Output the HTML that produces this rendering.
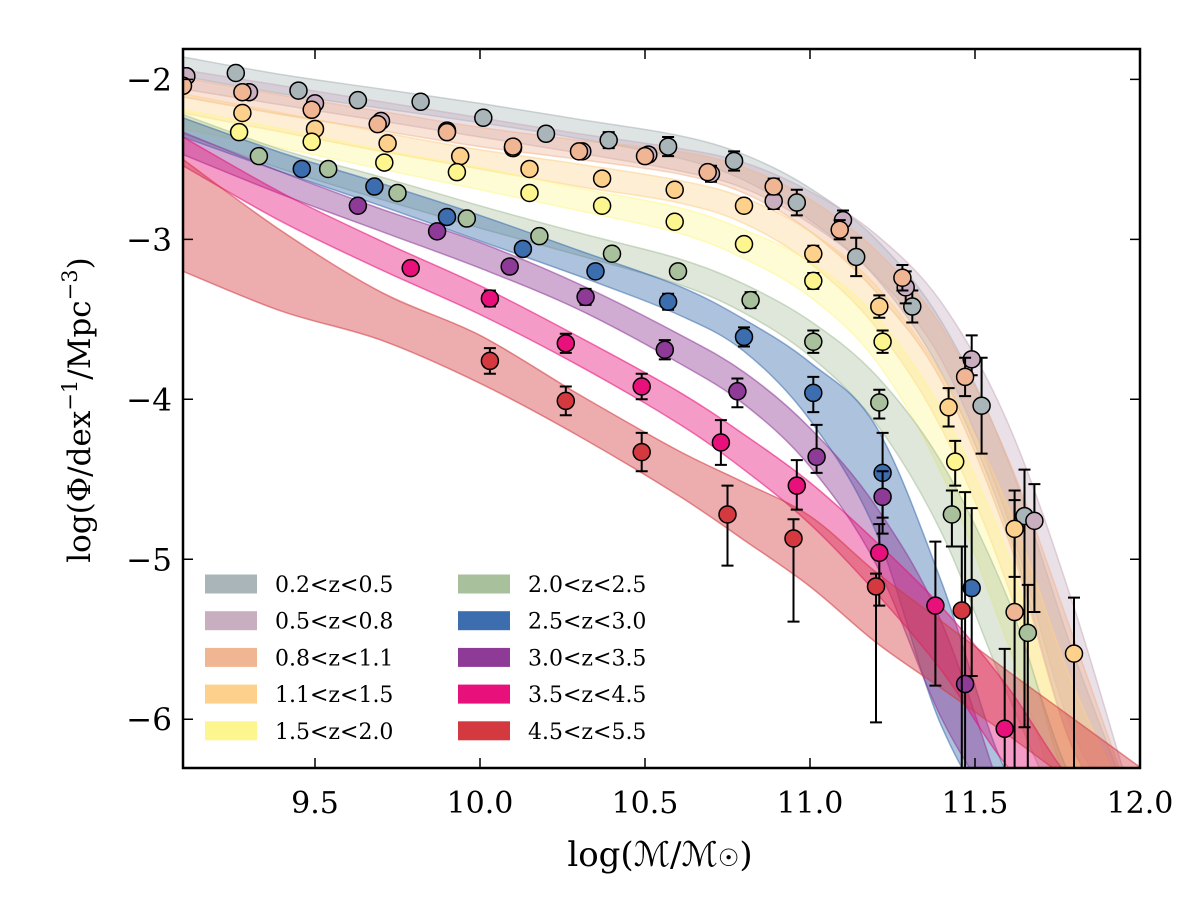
<!DOCTYPE html>
<html><head><meta charset="utf-8">
<style>
html,body{margin:0;padding:0;background:#fff;width:1200px;height:905px;overflow:hidden;}
svg{display:block;}
text{font-family:"DejaVu Serif","Liberation Serif",serif;}
</style></head>
<body>
<svg id="chart" width="1200" height="905" viewBox="0 0 1200 905">
  <defs><clipPath id="plotclip"><rect x="183" y="49" width="957" height="719"/></clipPath></defs>
  <rect x="0" y="0" width="1200" height="905" fill="#fff"/>
  <g id="bands" clip-path="url(#plotclip)"></g>
  <g id="points" clip-path="url(#plotclip)"></g>
  <rect x="183" y="49" width="957" height="719" fill="none" stroke="#000" stroke-width="2.5"/>
  <g id="axes"></g>
  <g id="legend"></g>
  <text x="660" y="866" font-size="34" text-anchor="middle">log(ℳ/ℳ<tspan font-size="24">☉</tspan>)</text>
  <text x="0" y="0" font-size="31" text-anchor="middle" transform="translate(90,410) rotate(-90)">log(Φ/dex<tspan dy="-13" font-size="21">−1</tspan><tspan dy="13">/Mpc</tspan><tspan dy="-13" font-size="21">−3</tspan><tspan dy="13">)</tspan></text>
</svg>
<script>
// ---- data ----
const xTicks = [9.5, 10.0, 10.5, 11.0, 11.5, 12.0];
const xTickLabels = ["9.5", "10.0", "10.5", "11.0", "11.5", "12.0"];
const yTicks = [-2, -3, -4, -5, -6];
const yTickLabels = ["−2", "−3", "−4", "−5", "−6"];
const seriesNames = ["0.2<z<0.5","0.5<z<0.8","0.8<z<1.1","1.1<z<1.5","1.5<z<2.0","2.0<z<2.5","2.5<z<3.0","3.0<z<3.5","3.5<z<4.5","4.5<z<5.5"];
const seriesColors = ["#a9b5b8","#c9aec0","#f0b694","#fdd18c","#fdf68f","#a8c09b","#3c6daf","#8e3a97","#e8107a","#d3393f"];
const bandGrid = [9.1, 9.4, 9.7, 10.0, 10.3, 10.6, 10.8, 11.0, 11.2, 11.4, 11.6, 11.8, 12.0];

const bandCenter0 = [-1.92,-2.03,-2.12,-2.21,-2.31,-2.42,-2.55,-2.78,-3.12,-3.68,-4.6,-5.9,-7.4];
const bandHalf0   = [0.06,0.06,0.06,0.06,0.06,0.07,0.08,0.1,0.12,0.16,0.22,0.3,0.4];
const bandCenter1 = [-2.0,-2.1,-2.2,-2.3,-2.4,-2.5,-2.6,-2.8,-3.1,-3.58,-4.45,-5.7,-7.2];
const bandHalf1   = [0.06,0.06,0.06,0.06,0.06,0.07,0.08,0.1,0.13,0.18,0.3,0.4,0.5];
const bandCenter2 = [-2.05,-2.16,-2.26,-2.36,-2.44,-2.52,-2.63,-2.85,-3.2,-3.72,-4.62,-5.85,-7.4];
const bandHalf2   = [0.06,0.06,0.06,0.06,0.06,0.07,0.08,0.1,0.13,0.17,0.25,0.35,0.45];
const bandCenter3 = [-2.15,-2.27,-2.39,-2.5,-2.6,-2.7,-2.82,-3.05,-3.42,-4.02,-4.92,-6.15,-7.7];
const bandHalf3   = [0.06,0.06,0.06,0.06,0.07,0.07,0.08,0.1,0.13,0.17,0.25,0.35,0.45];
const bandCenter4 = [-2.25,-2.37,-2.5,-2.62,-2.75,-2.88,-3.03,-3.25,-3.62,-4.27,-5.25,-6.6,-8.2];
const bandHalf4   = [0.06,0.06,0.06,0.07,0.07,0.08,0.09,0.11,0.14,0.2,0.28,0.38,0.5];
const bandCenter5 = [-2.28,-2.5,-2.68,-2.86,-3.03,-3.2,-3.37,-3.62,-4.0,-4.62,-5.55,-6.8,-8.2];
const bandHalf5   = [0.06,0.06,0.07,0.07,0.07,0.08,0.09,0.11,0.15,0.22,0.3,0.4,0.5];
const bandCenter6 = [-2.3,-2.52,-2.72,-2.93,-3.15,-3.38,-3.6,-3.95,-4.5,-5.6,-6.9,-8.2,-9.5];
const bandHalf6   = [0.06,0.06,0.07,0.08,0.08,0.09,0.1,0.18,0.33,0.45,0.55,0.6,0.6];
const bandCenter7 = [-2.4,-2.65,-2.88,-3.1,-3.36,-3.68,-3.93,-4.3,-4.85,-5.7,-7.0,-8.5,-10.0];
const bandHalf7   = [0.07,0.07,0.07,0.08,0.08,0.09,0.1,0.12,0.18,0.3,0.4,0.5,0.5];
const bandCenter8 = [-2.45,-2.8,-3.1,-3.38,-3.7,-4.05,-4.33,-4.65,-5.05,-5.5,-6.05,-6.7,-7.4];
const bandHalf8   = [0.09,0.09,0.09,0.09,0.09,0.1,0.11,0.13,0.16,0.2,0.25,0.3,0.35];
const bandCenter9 = [-2.85,-3.2,-3.48,-3.75,-4.1,-4.46,-4.7,-4.95,-5.3,-5.6,-5.9,-6.2,-6.5];
const bandHalf9   = [0.35,0.25,0.15,0.15,0.13,0.14,0.18,0.22,0.22,0.21,0.2,0.2,0.2];
const bandCenters = [bandCenter0,bandCenter1,bandCenter2,bandCenter3,bandCenter4,bandCenter5,bandCenter6,bandCenter7,bandCenter8,bandCenter9];
const bandHalves = [bandHalf0,bandHalf1,bandHalf2,bandHalf3,bandHalf4,bandHalf5,bandHalf6,bandHalf7,bandHalf8,bandHalf9];

const mass0 = [9.11,9.26,9.45,9.63,9.82,10.01,10.20,10.39,10.57,10.77,10.96,11.14,11.31,11.52,11.65];
const phi0  = [-1.98,-1.96,-2.07,-2.13,-2.14,-2.24,-2.34,-2.38,-2.42,-2.51,-2.77,-3.11,-3.42,-4.04,-4.73];
const errUp0 = [0.02,0.02,0.02,0.02,0.03,0.03,0.04,0.05,0.06,0.06,0.08,0.12,0.1,0.3,0.29];
const errDn0 = [0.02,0.02,0.02,0.02,0.03,0.03,0.04,0.05,0.06,0.06,0.08,0.12,0.1,0.3,1.32];
const mass1 = [9.11,9.30,9.50,9.70,9.90,10.10,10.31,10.51,10.70,10.89,11.10,11.29,11.49,11.68];
const phi1  = [-1.98,-2.08,-2.15,-2.26,-2.32,-2.43,-2.45,-2.47,-2.59,-2.76,-2.88,-3.30,-3.75,-4.76];
const errUp1 = [0.02,0.02,0.02,0.02,0.02,0.03,0.03,0.04,0.05,0.05,0.06,0.1,0.15,0.23];
const errDn1 = [0.02,0.02,0.02,0.02,0.02,0.03,0.03,0.04,0.05,0.05,0.06,0.1,0.1,0.57];
const mass2 = [9.10,9.28,9.49,9.69,9.90,10.10,10.30,10.50,10.69,10.89,11.09,11.28,11.47,11.62];
const phi2  = [-2.04,-2.08,-2.19,-2.28,-2.33,-2.42,-2.45,-2.48,-2.58,-2.67,-2.94,-3.24,-3.86,-5.33];
const errUp2 = [0.02,0.02,0.02,0.02,0.02,0.03,0.03,0.04,0.04,0.05,0.06,0.08,0.12,0.7];
const errDn2 = [0.02,0.02,0.02,0.02,0.02,0.03,0.03,0.04,0.04,0.05,0.06,0.08,0.12,1.0];
const mass3 = [9.28,9.50,9.72,9.94,10.15,10.37,10.59,10.80,11.01,11.21,11.42,11.62,11.80];
const phi3  = [-2.21,-2.31,-2.40,-2.48,-2.56,-2.62,-2.69,-2.79,-3.09,-3.42,-4.05,-4.81,-5.59];
const errUp3 = [0.02,0.02,0.02,0.02,0.02,0.03,0.03,0.04,0.05,0.07,0.12,0.24,0.35];
const errDn3 = [0.02,0.02,0.02,0.02,0.02,0.03,0.03,0.04,0.05,0.07,0.12,0.3,1.5];
const mass4 = [9.27,9.49,9.71,9.93,10.15,10.37,10.59,10.80,11.01,11.22,11.44];
const phi4  = [-2.33,-2.39,-2.52,-2.58,-2.71,-2.79,-2.89,-3.03,-3.26,-3.64,-4.39];
const errUp4 = [0.02,0.02,0.02,0.02,0.02,0.03,0.03,0.03,0.05,0.07,0.13];
const errDn4 = [0.02,0.02,0.02,0.02,0.02,0.03,0.03,0.03,0.05,0.07,0.15];
const mass5 = [9.33,9.54,9.75,9.96,10.18,10.40,10.60,10.82,11.01,11.21,11.43,11.66];
const phi5  = [-2.48,-2.56,-2.71,-2.87,-2.98,-3.09,-3.2,-3.38,-3.64,-4.02,-4.72,-5.46];
const errUp5 = [0.02,0.02,0.02,0.02,0.02,0.03,0.04,0.05,0.07,0.08,0.15,0.3];
const errDn5 = [0.02,0.02,0.02,0.02,0.02,0.03,0.04,0.05,0.07,0.1,0.2,0.9];
const mass6 = [9.46,9.68,9.90,10.13,10.35,10.57,10.80,11.01,11.22,11.49];
const phi6  = [-2.56,-2.67,-2.86,-3.06,-3.20,-3.39,-3.61,-3.96,-4.46,-5.18];
const errUp6 = [0.02,0.02,0.03,0.03,0.04,0.05,0.06,0.1,0.25,0.5];
const errDn6 = [0.02,0.02,0.03,0.03,0.04,0.05,0.06,0.12,0.28,0.55];
const mass7 = [9.63,9.87,10.09,10.32,10.56,10.78,11.02,11.22,11.47];
const phi7  = [-2.79,-2.95,-3.17,-3.36,-3.69,-3.95,-4.36,-4.61,-5.78];
const errUp7 = [0.02,0.03,0.04,0.05,0.06,0.08,0.2,0.16,1.2];
const errDn7 = [0.02,0.03,0.04,0.05,0.06,0.1,0.1,0.23,2.0];
const mass8 = [9.79,10.03,10.26,10.49,10.73,10.96,11.21,11.38,11.59];
const phi8  = [-3.18,-3.37,-3.65,-3.92,-4.27,-4.54,-4.96,-5.29,-6.06];
const errUp8 = [0.03,0.05,0.06,0.08,0.14,0.16,0.18,0.4,0.5];
const errDn8 = [0.03,0.05,0.06,0.08,0.14,0.15,0.33,0.5,1.0];
const mass9 = [10.03,10.26,10.49,10.75,10.95,11.20,11.46];
const phi9  = [-3.76,-4.01,-4.33,-4.72,-4.87,-5.17,-5.32];
const errUp9 = [0.08,0.09,0.12,0.18,0.12,0.08,0.4];
const errDn9 = [0.08,0.09,0.12,0.32,0.52,0.85,1.5];
const masses = [mass0,mass1,mass2,mass3,mass4,mass5,mass6,mass7,mass8,mass9];
const phis = [phi0,phi1,phi2,phi3,phi4,phi5,phi6,phi7,phi8,phi9];
const errUps = [errUp0,errUp1,errUp2,errUp3,errUp4,errUp5,errUp6,errUp7,errUp8,errUp9];
const errDns = [errDn0,errDn1,errDn2,errDn3,errDn4,errDn5,errDn6,errDn7,errDn8,errDn9];

// ---- axes ----
const X0 = 183, X1 = 1140, Y0 = 49, Y1 = 768;
const xMin = 9.1, xMax = 12.0, yMin = -6.305, yMax = -1.81;
function xs(v){ return X0 + (v - xMin) / (xMax - xMin) * (X1 - X0); }
function ys(v){ return Y1 - (v - yMin) / (yMax - yMin) * (Y1 - Y0); }
function ysc(v){ return Math.min(ys(v), Y1 + 60); }
const NS = "http://www.w3.org/2000/svg";
function mk(tag, attrs, parent){ const e = document.createElementNS(NS, tag); for (const k in attrs) e.setAttribute(k, attrs[k]); parent.appendChild(e); return e; }

function smoothPath(pts){
  let d = "M" + pts[0][0].toFixed(1) + "," + pts[0][1].toFixed(1);
  for (let i = 0; i < pts.length - 1; i++){
    const p0 = pts[Math.max(0,i-1)], p1 = pts[i], p2 = pts[i+1], p3 = pts[Math.min(pts.length-1,i+2)];
    const c1 = [p1[0] + (p2[0]-p0[0])/6, Math.min(p1[1] + (p2[1]-p0[1])/6, Y1+60)];
    const c2 = [p2[0] - (p3[0]-p1[0])/6, Math.min(p2[1] - (p3[1]-p1[1])/6, Y1+60)];
    d += " C" + c1[0].toFixed(1) + "," + c1[1].toFixed(1) + " " + c2[0].toFixed(1) + "," + c2[1].toFixed(1) + " " + p2[0].toFixed(1) + "," + p2[1].toFixed(1);
  }
  return d;
}

const bandsG = document.getElementById("bands");
for (let s = 0; s < seriesNames.length; s++){
  const upRaw = bandGrid.map((m,i)=>[xs(m), ys(bandCenters[s][i] + bandHalves[s][i])]);
  const loRaw = bandGrid.map((m,i)=>[xs(m), ys(bandCenters[s][i] - bandHalves[s][i])]);
  // truncate where the band is well below the plot to keep geometry bounded
  let n = upRaw.length;
  for (let i = 0; i < upRaw.length; i++){ if (upRaw[i][1] > Y1 + 40){ n = i + 1; break; } }
  const up = upRaw.slice(0, n).map(p=>[p[0], Math.min(p[1], Y1+60)]);
  const lo = loRaw.slice(0, n).map(p=>[p[0], Math.min(p[1], Y1+60)]).reverse();
  let d = smoothPath(up);
  d += " L" + smoothPath(lo).slice(1) + " Z";
  const p = mk("path", {d: d, fill: seriesColors[s], "fill-opacity": s >= 6 ? 0.42 : 0.38, stroke: seriesColors[s], "stroke-opacity": 0.55, "stroke-width": 1.5}, bandsG);
  
  
}

const ptsG = document.getElementById("points");
for (let s = 0; s < seriesNames.length; s++){
  const g = mk("g", {}, ptsG);
  
  
  for (let i = 0; i < masses[s].length; i++){
    const cx = xs(masses[s][i]), cy = ys(phis[s][i]);
    const yt = ysc(phis[s][i] + errUps[s][i]), yb = ysc(phis[s][i] - errDns[s][i]);
    const eb = mk("path", {d: `M${cx},${yt} L${cx},${yb} M${cx-6},${yt} L${cx+6},${yt} M${cx-6},${yb} L${cx+6},${yb}`, stroke: "#000", "stroke-width": 2, fill: "none"}, g);
    
    
    const c = mk("circle", {cx: cx, cy: cy, r: 8.5, fill: seriesColors[s], stroke: "#000", "stroke-width": 1.5}, g);
    
    
  }
}

const axG = document.getElementById("axes");
xTicks.forEach((t,i)=>{
  const x = xs(t);
  const tk = mk("path", {d:`M${x},${Y1} L${x},${Y1-10} M${x},${Y0} L${x},${Y0+10}`, stroke:"#000", "stroke-width":1.5}, axG);
  
  
  const lb = mk("text", {x:x, y:813, "font-size":30, "text-anchor":"middle"}, axG);
  lb.textContent = xTickLabels[i];
  
  
});
yTicks.forEach((t,i)=>{
  const y = ys(t);
  const tk = mk("path", {d:`M${X0},${y} L${X0+10},${y} M${X1},${y} L${X1-10},${y}`, stroke:"#000", "stroke-width":1.5}, axG);
  
  
  const lb = mk("text", {x:172, y:y+11, "font-size":31, "text-anchor":"end"}, axG);
  lb.textContent = yTickLabels[i];
  
  
});

const lgG = document.getElementById("legend");
for (let s = 0; s < seriesNames.length; s++){
  const col = Math.floor(s / 5), row = s % 5;
  const px = col === 0 ? 205 : 458, ty = 584 + row * 36.7;
  const e = mk("g", {}, lgG);
  
  
  mk("rect", {x:px, y:ty-9.5, width:52, height:19, fill:seriesColors[s]}, e);
  const t = mk("text", {x:px+70, y:ty+8, "font-size":22}, e);
  t.textContent = seriesNames[s];
}
</script>
</body></html>
